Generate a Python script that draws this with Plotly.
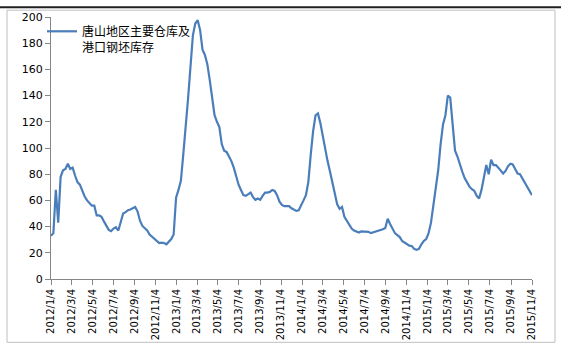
import pandas as pd
import plotly.graph_objects as go

series_name = "唐山地区主要仓库及<br>港口钢坯库存"
start_date = "2012-01-04"
values = [
    33, 35, 68, 43, 78, 83, 84, 88, 84, 85,
    79, 74, 72, 67, 63, 60, 58, 56, 56, 48.5,
    48.5, 47.5, 44, 40.5, 37.5, 36.5, 38.5, 39.5, 37, 43.5,
    50, 51, 52.5, 53, 54, 55, 51.5, 44.5, 40.5, 39,
    37, 34, 32.5, 31, 29.6, 27.5, 27.7, 27.5, 26.5, 28.5,
    30.5, 34, 62, 68, 75, 95, 114, 138, 162, 186,
    195, 197.5, 190, 175, 171, 164, 152, 138, 125, 120,
    116, 103, 98, 97, 94, 90, 85, 79, 72, 68,
    64, 63.5, 64.5, 66, 62.5, 60.5, 61.5, 60.5, 63.5, 66,
    66, 66.5, 68, 67.2, 64, 59, 56.5, 55.6, 55.6, 55.6,
    54, 53, 52, 52.5, 57, 60, 64, 74, 95, 113,
    125, 126.4, 119, 109, 97, 90, 82, 74, 65, 57,
    53.6, 55, 47.5, 44.4, 41, 38.5, 37, 36.3, 35.5, 36.3,
    36.3, 36.5, 36, 35, 35.6, 36, 36.3, 37.5, 38, 39,
    46, 42, 38, 35, 33.5, 32, 29, 27.7, 27, 25.5,
    25.2, 23, 22.2, 23, 26.5, 29, 30.5, 35, 43, 57,
    67, 83, 103, 118, 125, 140, 138.5, 115, 98, 93.5,
    87, 82, 77, 73.5, 70.5, 68.5, 67.3, 63.5, 61.5, 68,
    79, 87, 80, 91, 87, 87, 85, 83, 80.5, 82.5,
    86, 88, 87.4, 84, 80.5, 80, 77, 73, 71, 68,
    64,
]
dates = pd.date_range(start_date, periods=len(values), freq="7D")

tick_dates = [
    "2012-01-04", "2012-03-04", "2012-05-04", "2012-07-04", "2012-09-04", "2012-11-04",
    "2013-01-04", "2013-03-04", "2013-05-04", "2013-07-04", "2013-09-04", "2013-11-04",
    "2014-01-04", "2014-03-04", "2014-05-04", "2014-07-04", "2014-09-04", "2014-11-04",
    "2015-01-04", "2015-03-04", "2015-05-04", "2015-07-04", "2015-09-04", "2015-11-04",
]
y_ticks = [0, 20, 40, 60, 80, 100, 120, 140, 160, 180, 200]

fig = go.Figure()
fig.add_trace(go.Scatter(
    x=dates, y=values, mode="lines", name=series_name,
    line=dict(color="#4a7ebb", width=2.2),
))

axis_color = "#868686"
fig.update_layout(
    width=561, height=351,
    margin=dict(l=51, r=29, t=11, b=71),
    paper_bgcolor="white", plot_bgcolor="white",
    showlegend=True,
    legend=dict(
        x=(42 - 51) / 481, y=1.0, xanchor="left", yanchor="top",
        bgcolor="rgba(0,0,0,0)", valign="top",
        font=dict(family="Noto Sans CJK SC", size=12, color="#000000"),
    ),
    xaxis=dict(
        type="date",
        range=[dates[0], dates[-1]],
        tickvals=tick_dates,
        tickformat="%Y/%-m/%-d",
        tickangle=-90,
        tickfont=dict(family="DejaVu Sans", size=10, color="#000000"),
        showgrid=False, zeroline=False,
        showline=True, linecolor=axis_color, linewidth=1,
        ticks="outside", ticklen=5, tickcolor=axis_color,
    ),
    yaxis=dict(
        range=[0, 200],
        tickvals=y_ticks,
        tickfont=dict(family="DejaVu Sans", size=11, color="#000000"),
        showgrid=False, zeroline=False,
        showline=True, linecolor=axis_color, linewidth=1,
        ticks="outside", ticklen=5, tickcolor=axis_color,
    ),
    shapes=[
        dict(type="rect", xref="paper", yref="paper",
             x0=(7 - 51) / 481, x1=(555 - 51) / 481,
             y0=(280 - 345) / 269, y1=(280 - 4) / 269,
             line=dict(color="#bfbfbf", width=1), fillcolor="rgba(0,0,0,0)"),
        dict(type="line", xref="paper", yref="paper",
             x0=-51 / 481, x1=(561 - 51) / 481,
             y0=(280 - 1) / 269, y1=(280 - 1) / 269,
             line=dict(color="#202020", width=2)),
    ],
)

fig.write_html("out.html")
